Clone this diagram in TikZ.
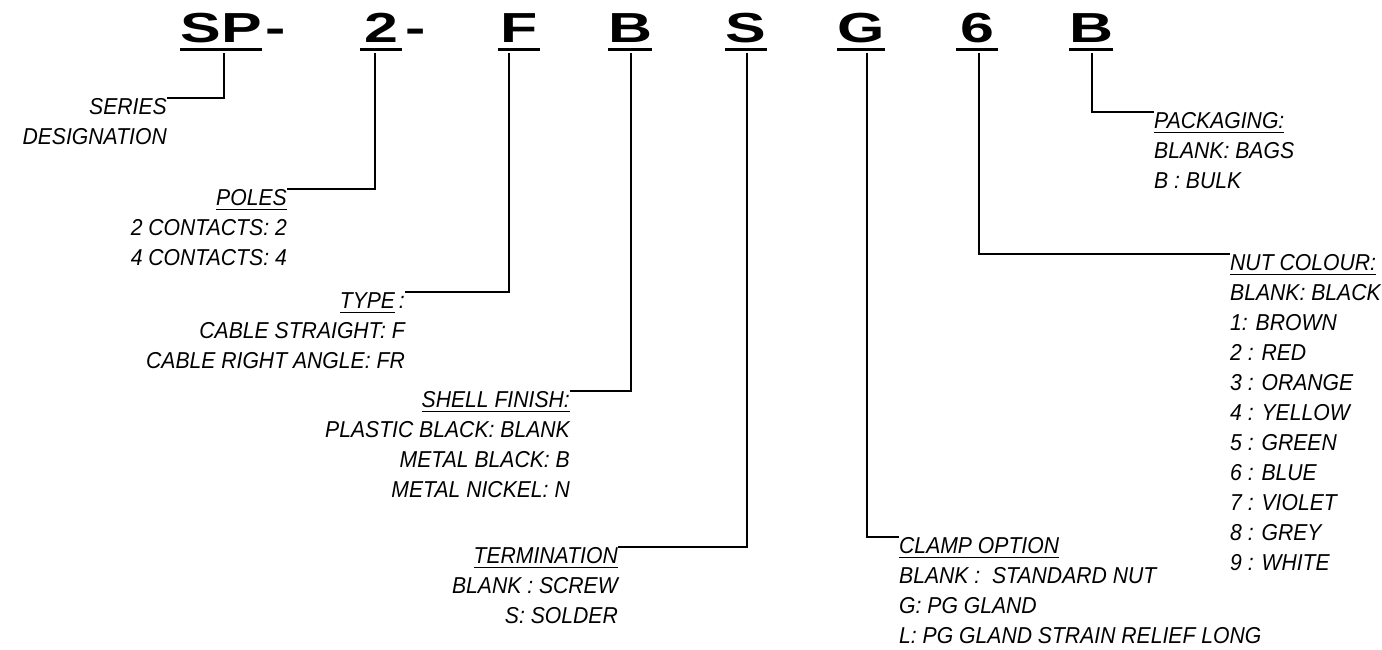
\documentclass[tikz,border=0pt]{standalone}
\usepackage{fontspec}
\setmainfont{Liberation Sans}
\newfontfamily\codefont{Liberation Sans}[FakeStretch=1.45]
\newfontfamily\lblfont{Liberation Sans}[FakeStretch=0.92]
\newcommand{\uln}[1]{\leavevmode\vtop{\hbox{#1}\kern3.5pt\hrule height 1.5pt}}
\tikzset{
    code/.style={font=\codefont\bfseries\fontsize{42}{42}\selectfont, anchor=base, inner sep=0pt, minimum width=42pt},
    lbl/.style={font=\lblfont\itshape\fontsize{23}{30}\selectfont, inner sep=0pt},
    lead/.style={line width=1.8pt},
    codeline/.style={line width=3pt}
}

\begin{document}
\begin{tikzpicture}[x=1pt, y=-1pt]
    \useasboundingbox (0,0) rectangle (1382,650);

    \node[code] (cSP) at (221,43) {SP};
    \node[code, anchor=base west, minimum width=0pt, xshift=3pt] (dSP) at (cSP.base east) {-};
    \node[code] (c2) at (381,43) {2};
    \node[code, anchor=base west, minimum width=0pt, xshift=3pt] (d2) at (c2.base east) {-};
    \node[code] (cF) at (519,43) {F};
    \node[code] (cB) at (630,43) {B};
    \node[code] (cS) at (746,43) {S};
    \node[code] (cG) at (861,43) {G};
    \node[code] (c6) at (977,43) {6};
    \node[code] (cBk) at (1091,43) {B};
    \foreach \c in {cSP,c2,cF,cB,cS,cG,c6,cBk}
        \draw[codeline] ([yshift=-6pt]\c.south west) -- ([yshift=-6pt]\c.south east);

    \coordinate (tSP) at (224,53);
    \coordinate (t2) at (375,53);
    \coordinate (tF) at (509,53);
    \coordinate (tB) at (631,53);
    \coordinate (tS) at (747,53);
    \coordinate (tG) at (867,53);
    \coordinate (t6) at (979,53);
    \coordinate (tBk) at (1092,53);

    \node[lbl, align=right, anchor=north east] (series) at (167,98) {SERIES\\DESIGNATION};
    \node[lbl, align=right, anchor=north east] (poles) at (287,189) {\uln{POLES}\\2 CONTACTS: 2\\4 CONTACTS: 4};
    \node[lbl, align=right, anchor=north east] (type) at (405,292) {\uln{TYPE}\,:\\CABLE STRAIGHT: F\\CABLE RIGHT ANGLE: FR};
    \node[lbl, align=right, anchor=north east] (shell) at (570,391) {\uln{SHELL FINISH:}\\PLASTIC BLACK: BLANK\\METAL BLACK: B\\METAL NICKEL: N};
    \node[lbl, align=right, anchor=north east] (term) at (618,547) {\uln{TERMINATION}\\BLANK : SCREW\\S: SOLDER};
    \node[lbl, align=left, anchor=north west] (clamp) at (899,537) {\uln{CLAMP OPTION}\\BLANK :\ \ STANDARD NUT\\G: PG GLAND\\L: PG GLAND STRAIN RELIEF LONG};
    \node[lbl, align=left, anchor=north west] (pack) at (1154,112) {\uln{PACKAGING:}\\BLANK: BAGS\\B : BULK};
    \node[lbl, align=left, anchor=north west] (nut) at (1230,254) {\uln{NUT COLOUR:}\\BLANK: BLACK\\1: BROWN\\2 : RED\\3 : ORANGE\\4 : YELLOW\\5 : GREEN\\6 : BLUE\\7 : VIOLET\\8 : GREY\\9 : WHITE};

    \draw[lead] (tSP) |- (series.north east);
    \draw[lead] (t2) |- (poles.north east);
    \draw[lead] (tF) |- (type.north east);
    \draw[lead] (tB) |- (shell.north east);
    \draw[lead] (tS) |- (term.north east);
    \draw[lead] (tG) |- (clamp.north west);
    \draw[lead] (t6) |- (nut.north west);
    \draw[lead] (tBk) |- (pack.north west);
\end{tikzpicture}
\end{document}
